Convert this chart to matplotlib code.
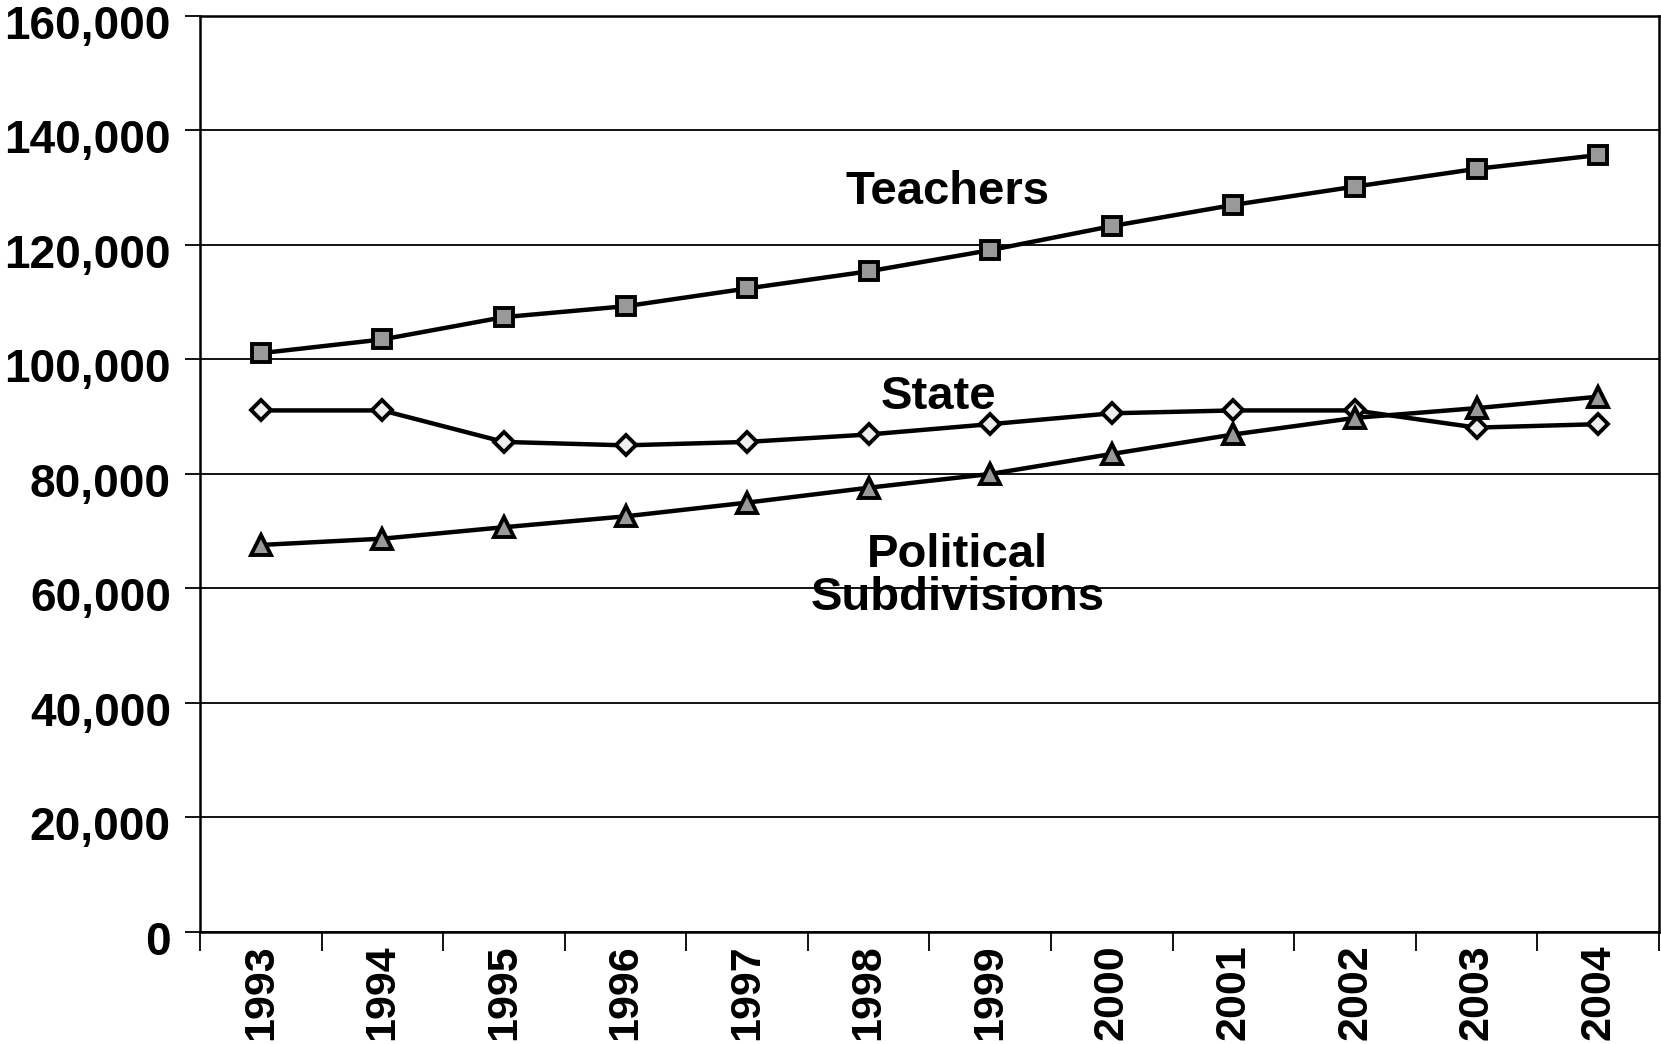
import matplotlib
matplotlib.use('Agg')
import matplotlib.pyplot as plt
from matplotlib.ticker import FuncFormatter, MultipleLocator
from matplotlib.transforms import ScaledTranslation

years = ['1993', '1994', '1995', '1996', '1997', '1998',
         '1999', '2000', '2001', '2002', '2003', '2004']
teachers = [101100, 103500, 107400, 109300, 112400, 115400,
            119100, 123300, 127000, 130200, 133300, 135700]
state = [91100, 91100, 85600, 85000, 85600, 86900,
         88700, 90600, 91100, 91100, 88100, 88700]
political = [67600, 68700, 70700, 72600, 75000, 77600,
             80000, 83500, 86900, 89800, 91500, 93500]

plt.rcParams['font.family'] = ['Liberation Sans', 'DejaVu Sans']
plt.rcParams['font.weight'] = 'bold'

fig = plt.figure(figsize=(16.61, 10.44), dpi=100)
ax = fig.add_axes([0.1204, 0.1073, 0.8784, 0.8774])

x = list(range(len(years)))
ax.plot(x, teachers, color='black', lw=3.2, marker='s', ms=13,
        mfc='#999999', mec='black', mew=2.8, zorder=3)
ax.plot(x, state, color='black', lw=3.2, marker='D', ms=10,
        mfc='#eeeeee', mec='black', mew=2.8, zorder=3)
ax.plot(x, political, color='black', lw=3.2, marker='^', ms=14,
        mfc='#999999', mec='black', mew=2.8, zorder=3)

ax.text(5.65, 129200, 'Teachers', ha='center', va='center',
        fontsize=34, fontweight='bold')
ax.text(5.57, 93400, 'State', ha='center', va='center',
        fontsize=34, fontweight='bold')
ax.text(5.73, 62100, 'Political\nSubdivisions', ha='center', va='center',
        fontsize=34, fontweight='bold', linespacing=0.95)

ax.set_xlim(-0.5, len(years) - 0.5)
ax.set_ylim(0, 160000)
ax.yaxis.set_major_locator(MultipleLocator(20000))
ax.yaxis.set_major_formatter(FuncFormatter(lambda v, p: f'{int(v):,}'))
ax.grid(axis='y', color='black', lw=1.3)
ax.set_axisbelow(True)

# labels at category centres, ticks on the boundaries
ax.set_xticks(x)
ax.set_xticklabels(years, rotation=90, va='top', ha='center')
ax.set_xticks([i - 0.5 for i in range(len(years) + 1)], minor=True)
ax.tick_params(axis='x', which='major', length=0, pad=9, labelsize=31)
ax.tick_params(axis='x', which='minor', length=14, width=1.3,
               direction='out', color='black')
ax.tick_params(axis='y', length=11, width=1.3, pad=10, labelsize=33)

# y labels sit a little below their gridlines in the original
shift = ScaledTranslation(0, -4 / 72, fig.dpi_scale_trans)
for lab in ax.get_yticklabels():
    lab.set_transform(lab.get_transform() + shift)

for sp in ax.spines.values():
    sp.set_linewidth(1.8)
    sp.set_color('black')

fig.savefig('out.png', dpi=100)
